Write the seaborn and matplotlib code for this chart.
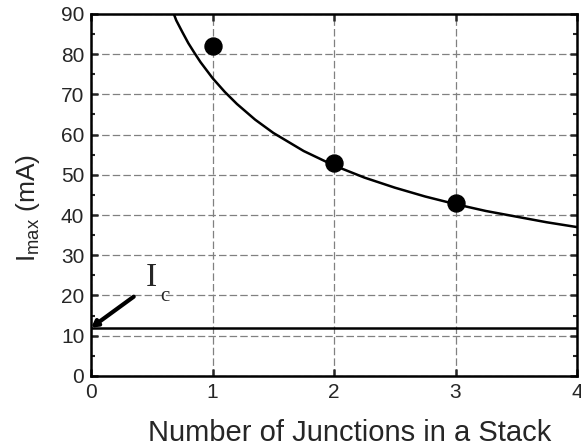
import matplotlib
matplotlib.use("Agg")
import matplotlib.pyplot as plt
import seaborn as sns
import pandas as pd
from matplotlib.ticker import MultipleLocator

# measured maximum current per stack size
n_junctions = [1, 2, 3]
i_max = [82, 53, 43]

# fitted curve
curve_n = [0.68, 0.7, 0.75, 0.8, 0.85, 0.9, 1.0, 1.1, 1.2, 1.35, 1.5, 1.75, 2.0,
           2.25, 2.5, 2.75, 3.0, 3.25, 3.5, 3.75, 4.0]
curve_i = [90, 88.4, 85.5, 82.7, 80.3, 78.0, 74, 70.6, 67.6, 63.7, 60.4, 55.9, 52.3,
           49.3, 46.8, 44.6, 42.7, 41.0, 39.6, 38.2, 37.0]

# critical current level
ic_level = 12
ic_span = [0, 4]


def main():
    sns.set_style("ticks")
    plt.rcParams["font.family"] = ["Liberation Sans", "DejaVu Sans"]
    plt.rcParams["mathtext.fontset"] = "custom"
    plt.rcParams["mathtext.rm"] = "Liberation Sans"

    fig = plt.figure(figsize=(5.81, 4.47), dpi=100)
    ax = fig.add_axes([0.157, 0.159, 0.836, 0.810])

    ax.grid(True, which="major", color="#808080", linestyle=(0, (6, 2.5)), linewidth=0.9)
    ax.set_axisbelow(True)

    fit = pd.DataFrame({"n": curve_n, "i": curve_i})
    sns.lineplot(data=fit, x="n", y="i", color="black", linewidth=1.8, ax=ax, sort=False)

    pts = pd.DataFrame({"n": n_junctions, "i": i_max})
    sns.scatterplot(data=pts, x="n", y="i", color="black", s=150, edgecolor="black", ax=ax, zorder=5)

    ax.plot(ic_span, [ic_level, ic_level], color="black", linewidth=1.8)
    ax.annotate("", xy=(0.0, ic_level), xytext=(0.35, 19.7),
                arrowprops=dict(arrowstyle="-|>,head_length=0.35,head_width=0.2",
                                color="black", lw=3, shrinkA=0, shrinkB=0))
    ax.text(0.45, 20.6, "I", family="Liberation Serif", fontsize=24, ha="left", va="bottom")
    ax.text(0.565, 17.3, "c", family="Liberation Serif", fontsize=15, ha="left", va="bottom")

    ax.set_xlim(0, 4)
    ax.set_ylim(0, 90)
    ax.xaxis.set_major_locator(MultipleLocator(1))
    ax.yaxis.set_major_locator(MultipleLocator(10))
    ax.yaxis.set_minor_locator(MultipleLocator(5))
    ax.tick_params(axis="both", which="major", direction="in", length=5, width=1.8,
                   labelsize=15, pad=5, top=True, right=True)
    ax.tick_params(axis="y", which="minor", direction="in", length=3, width=1.5, right=True)
    for sp in ax.spines.values():
        sp.set_linewidth(1.8)
        sp.set_color("black")

    ax.set_xlabel("Number of Junctions in a Stack", fontsize=21)
    ax.set_ylabel(r"$\mathregular{I_{max}}$ (mA)", fontsize=19)
    ax.xaxis.set_label_coords(0.533, -0.118)
    ax.yaxis.set_label_coords(-0.102, 0.464)

    fig.savefig("out.png", dpi=100)


if __name__ == "__main__":
    main()
